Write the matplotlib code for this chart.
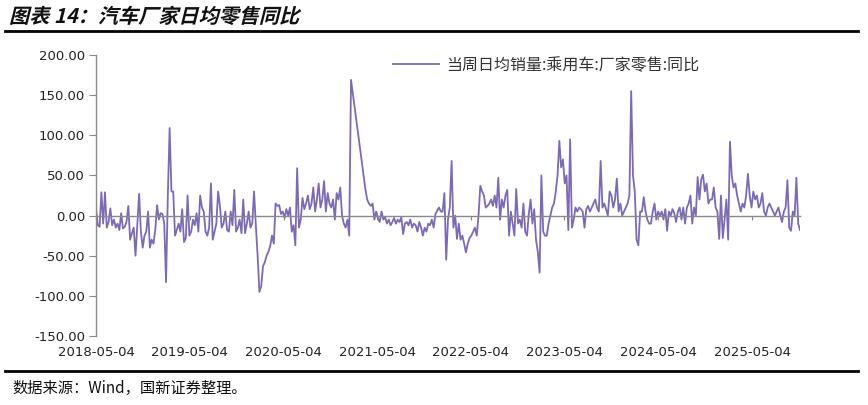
import matplotlib
matplotlib.use('Agg')
import matplotlib.pyplot as plt
import matplotlib.dates as mdates
import matplotlib.transforms as mtransforms
from matplotlib import patheffects
from matplotlib.lines import Line2D
import numpy as np
import pandas as pd

plt.rcParams['font.family'] = ['DejaVu Sans', 'Noto Sans CJK SC']

title = '图表 14：汽车厂家日均零售同比'
series_name = '当周日均销量:乘用车:厂家零售:同比'
source = '数据来源：Wind，国新证券整理。'
start_date = '2018-05-04'
tick_labels = ['2018-05-04', '2019-05-04', '2020-05-04', '2021-05-04',
               '2022-05-04', '2023-05-04', '2024-05-04', '2025-05-04']
y_ticks = [-150, -100, -50, 0, 50, 100, 150, 200]

# weekly YoY values (%)
yoy_2018_2019 = [9, -12, -14, 29, -10, 29, -15, -8, 9, -12,
                 -5, -15, -10, -18, 3, -16, -14, -8, 12, -30,
                 -22, -15, -50, -12, 27, -20, -40, -25, -20, 5,
                 -40, -30, -35, -18, 13, -5, 3, 2, -10, -83,
                 25, 109, 30, 30, -25, -18, -10, -20, 8, -33,
                 -28, 25, -25]
yoy_2019_2020 = [-20, -5, -12, 3, -20, 25, 10, 5, -20, -25,
                 -15, 40, -30, -20, -10, 30, 12, -15, -10, 5,
                 -18, -20, 5, -12, 32, -20, -15, -5, -22, 20,
                 -22, -10, 5, -15, -10, 30, -12, -50, -95, -88,
                 -63, -58, -50, -45, -38, -25, -35, 15]
yoy_2020_2021 = [12, 13, 2, 5, -3, 8, 0, 10, -20, -12,
                 -37, 59, -15, -5, 22, 8, 15, 25, 8, 15,
                 35, 5, 20, 40, 10, 20, 43, 5, 28, 15,
                 10, 20, -5, 28, 20, 35, 0, -10, -15, -5,
                 -25, 169]
yoy_2021_spring = [152, 135, 118, 101, 84, 67, 50, 33, 20, 15]
yoy_2021_2022 = [12, 15, -5, 5, -3, -8, 5, -5, -2, -10,
                 -5, -12, -8, -3, -10, -5, -8, -2, -23, -10,
                 -8, -12, -5, -15, -10, -12, -20, -8, -15, -25,
                 -15, -20, -10, -12, -5, -15, 2, 6, 10, 5]
yoy_2022_2023 = [5, 28, -55, -5, 10, 68, -15, 0, -29, -10,
                 -30, -25, -35, -46, -35, -28, -25, -20, -15, -25,
                 0, 37, 30, 25, 10, 12, 15, 20, 12, 25,
                 10, 47, -5, 20, 10, 25, 32, -25, 5, -10,
                 -25, 33, -10, -5, -15, 15, -20, -25, 2, 20,
                 -10, 8, -30, -45, -71, 50]
yoy_2023_2024 = [-20, -25, -25, -10, 0, 10, 15, 30, 50, 93,
                 60, 70, 40, 50, -18, 95, -15, -5, 10, 5,
                 10, 8, 5, -15, 8, 12, 5, 10, 15, 20,
                 10, 5, 68, 10, 15, 8, 0, 30, 25, 10,
                 20, 46, 5, 15]
yoy_2024_2025 = [0, 5, 10, 15, 25, 155, 50, 30, -30, -37,
                 5, 5, 23, 5, -5, -10, -10, 5, 15, -5,
                 5, 0, 5, -5, 8, -19, 5, 0, 8, 3,
                 -8, 5, 10, -5, 10, -10, 10, 15, 25, -10,
                 10, 0, 48, 20, 45, 51, 30, 40, 15, 20,
                 20, 35, 10, 5, -29, 25, -28, -5, 20, -30,
                 92, 50, 35, 40, 25, 15, 5, 15, 10, 25,
                 52, 25, 10, 30, 20, 25, 10, 15, 28, 5,
                 0, 10, 15, 10, 5, 0, 5, 10, 0, -8,
                 5, 10, 44, -15, -19, 5, 0, 47, -10, -18]

values = np.array(yoy_2018_2019 + yoy_2019_2020 + yoy_2020_2021 + yoy_2021_spring
                  + yoy_2021_2022 + yoy_2022_2023 + yoy_2023_2024 + yoy_2024_2025, dtype=float)
dates = pd.date_range(start_date, periods=len(values), freq='7D')

W, H = 868, 405


class Slant(patheffects.AbstractPathEffect):
    """Lean glyphs to the right around a fixed baseline (faux italic)."""
    def __init__(self, angle, y0):
        super().__init__()
        self._angle = angle
        self._y0 = y0

    def draw_path(self, renderer, gc, tpath, affine, rgbFace=None):
        skew = (mtransforms.Affine2D().translate(0, -self._y0)
                .skew_deg(self._angle, 0).translate(0, self._y0))
        renderer.draw_path(gc, tpath, affine + skew, rgbFace)


fig = plt.figure(figsize=(W / 100, H / 100), dpi=100)
ax = fig.add_axes([96 / W, 1 - 336 / H, (800 - 96) / W, (336 - 55) / H])

line_color = '#7D6AB2'
axis_color = '#8a8a8a'
ax.plot(dates, values, color=line_color, lw=1.3, label=series_name)

ax.set_ylim(-150, 200)
ax.set_xlim(dates[0], dates[-1])
for s in ['top', 'right']:
    ax.spines[s].set_visible(False)
ax.spines['bottom'].set_position(('data', 0))
ax.spines['bottom'].set_color(axis_color)
ax.spines['left'].set_color(axis_color)
ax.spines['bottom'].set_linewidth(1.0)
ax.spines['left'].set_linewidth(1.0)

tick_dates = pd.to_datetime(tick_labels)
ax.set_xticks(tick_dates)
ax.tick_params(axis='x', direction='out', length=3, color=axis_color,
               labelbottom=False)
ax.set_yticks(y_ticks)
ax.set_yticklabels([f'{v:.2f}' for v in y_ticks])
ax.tick_params(axis='y', direction='out', length=5, color=axis_color,
               labelsize=9.5, labelcolor='#222222', pad=3)

trans = mtransforms.blended_transform_factory(ax.transData, fig.transFigure)
for d, lab in zip(tick_dates, tick_labels):
    ax.text(mdates.date2num(d), 1 - 352 / H, lab, transform=trans,
            ha='center', va='center', fontsize=9.5, color='#222222')

leg = fig.legend(loc='upper left', bbox_to_anchor=(393 / W, 1 - 57 / H),
                 bbox_transform=fig.transFigure, frameon=False,
                 handlelength=2.9, handletextpad=0.45, borderpad=0,
                 borderaxespad=0,
                 prop={'family': ['Noto Sans CJK SC', 'DejaVu Sans'], 'size': 11.5})
for t in leg.get_texts():
    t.set_color('#333333')

title_base = 23
fig.text(9 / W, 1 - title_base / H, title, fontsize=14.5, fontweight='bold',
         va='baseline', ha='left', color='#111111',
         family=['Noto Sans CJK SC', 'DejaVu Sans'],
         path_effects=[Slant(14, H - title_base)])
fig.add_artist(Line2D([5 / W, 858 / W], [1 - 31 / H, 1 - 31 / H],
                      color='black', lw=2, transform=fig.transFigure))
fig.add_artist(Line2D([5 / W, 858 / W], [1 - 371 / H, 1 - 371 / H],
                      color='black', lw=2, transform=fig.transFigure))
fig.text(12 / W, 1 - 388 / H, source, fontsize=11, va='center', ha='left',
         color='#111111', family=['Noto Sans CJK SC', 'DejaVu Sans'])

fig.savefig('out.png', dpi=100)
